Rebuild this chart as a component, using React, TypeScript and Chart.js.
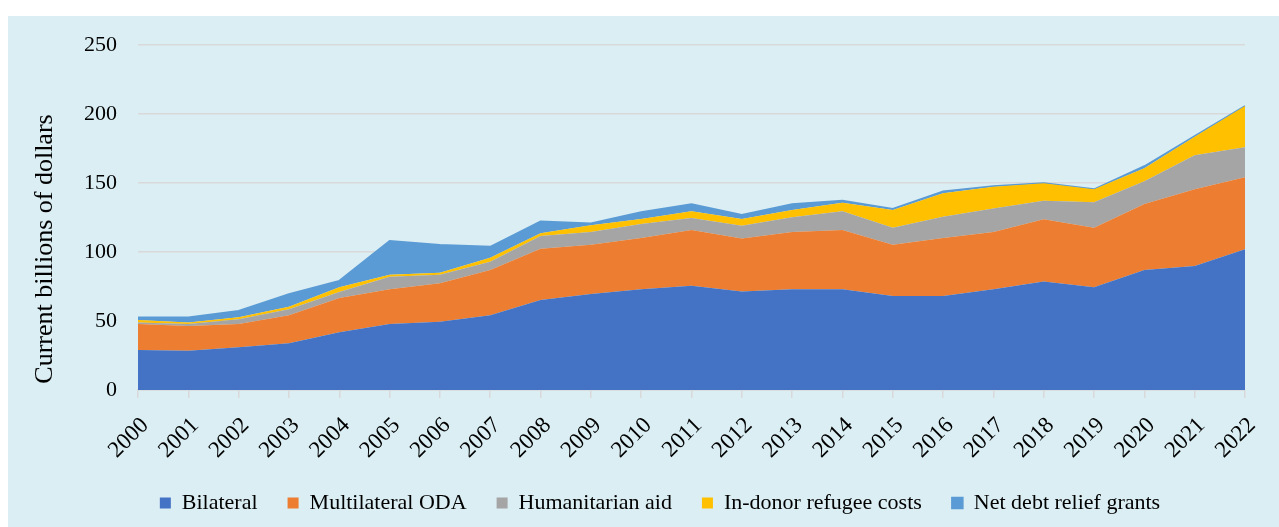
import React, { useEffect, useRef } from "react";
import { Chart, registerables } from "chart.js";

Chart.register(...registerables);

const years = [
  "2000", "2001", "2002", "2003", "2004", "2005", "2006", "2007", "2008", "2009", "2010", "2011",
  "2012", "2013", "2014", "2015", "2016", "2017", "2018", "2019", "2020", "2021", "2022",
];

const bilateral = [29.0, 28.5, 30.9, 33.8, 41.8, 47.8, 49.5, 54.1, 65.2, 69.6, 73.0, 75.6, 71.3, 73.0, 73.0, 68.1, 68.1, 73.0, 78.7, 74.4, 87.0, 89.9, 102.0];
const multilateral = [18.8, 17.9, 16.9, 20.3, 24.9, 25.2, 27.8, 32.9, 37.2, 35.7, 37.1, 40.3, 38.4, 41.5, 42.9, 37.2, 42.0, 41.5, 45.0, 43.2, 47.8, 55.5, 52.1];
const humanitarian = [1.2, 1.4, 3.4, 4.4, 4.3, 9.1, 6.3, 6.0, 9.2, 9.2, 10.2, 8.7, 9.4, 10.6, 13.6, 12.3, 15.5, 17.1, 13.5, 18.4, 16.4, 24.7, 21.8];
const refugeeCosts = [1.7, 1.2, 1.5, 1.9, 3.4, 1.5, 1.4, 2.9, 1.9, 4.8, 3.6, 4.9, 4.8, 5.3, 6.2, 12.8, 16.9, 15.7, 12.6, 9.4, 9.4, 13.5, 29.9];
const debtRelief = [2.0, 3.7, 4.8, 9.2, 4.8, 24.6, 20.3, 8.0, 8.7, 1.5, 5.1, 5.3, 3.1, 4.4, 1.7, 1.0, 1.5, 0.5, 0.2, 0.2, 1.7, 0.5, 0.1];

const seriesNames = ["Bilateral", "Multilateral ODA", "Humanitarian aid", "In-donor refugee costs", "Net debt relief grants"];
const seriesColors = ["#4472C4", "#ED7D31", "#A5A5A5", "#FFC000", "#5B9BD5"];
const yTicks = [0, 50, 100, 150, 200, 250];
const yTitle = "Current billions of dollars";

const FONT = "'Liberation Serif', 'Times New Roman', serif";

export default function App() {
  const ref = useRef<HTMLCanvasElement>(null);

  useEffect(() => {
    if (!ref.current) return;
    const seriesValues = [bilateral, multilateral, humanitarian, refugeeCosts, debtRelief];

    const yTitlePlugin = {
      id: "yTitlePlugin",
      afterDraw(chart: any) {
        const ctx = chart.ctx;
        ctx.save();
        ctx.translate(37, 233);
        ctx.rotate(-Math.PI / 2);
        ctx.font = `26px ${FONT}`;
        ctx.fillStyle = "#000";
        ctx.textAlign = "center";
        ctx.textBaseline = "middle";
        ctx.fillText(yTitle, 0, 0);
        ctx.restore();
      },
    };

    const chart = new Chart(ref.current, {
      type: "line",
      data: {
        labels: years,
        datasets: seriesValues.map((vals, i) => ({
          label: seriesNames[i],
          data: vals,
          backgroundColor: seriesColors[i],
          borderColor: seriesColors[i],
          borderWidth: i === 4 ? 1.5 : 0,
          fill: i === 0 ? "origin" : "-1",
          pointRadius: 0,
          tension: 0,
        })),
      },
      options: {
        responsive: false,
        animation: false,
        layout: { padding: { top: 29, right: 34, bottom: 3, left: 67 } },
        plugins: {
          legend: {
            position: "bottom",
            labels: {
              boxWidth: 11,
              boxHeight: 11,
              padding: 30,
              color: "#000",
              font: { size: 22, family: FONT },
            },
          },
          tooltip: { enabled: false },
        },
        scales: {
          x: {
            offset: false,
            afterFit: (s: any) => {
              s.height = 72;
            },
            grid: {
              display: true,
              drawOnChartArea: false,
              drawTicks: true,
              tickLength: 8,
              color: "#D9D9D9",
              lineWidth: 1.5,
            },
            border: { display: true, color: "#D9D9D9", width: 1.5 },
            ticks: {
              autoSkip: false,
              minRotation: 45,
              maxRotation: 45,
              padding: 14,
              labelOffset: 7,
              color: "#000",
              font: { size: 23, family: FONT },
            },
          },
          y: {
            stacked: true,
            min: 0,
            max: 250,
            afterFit: (s: any) => {
              s.width = 63;
              s.paddingTop = 10;
              s.paddingBottom = 10;
            },
            afterBuildTicks: (s: any) => {
              s.ticks = yTicks.map((v) => ({ value: v }));
            },
            grid: { color: "#D9D9D9", lineWidth: 1.5, drawTicks: false },
            border: { display: false },
            ticks: {
              padding: 21,
              color: "#000",
              font: { size: 22, family: FONT },
            },
          },
        },
      },
      plugins: [yTitlePlugin],
    });
    return () => chart.destroy();
  }, []);

  return (
    <div
      style={{
        position: "absolute",
        left: 8,
        top: 16,
        width: 1271,
        height: 511,
        background: "#DAEEF3",
      }}
    >
      <canvas ref={ref} width={1271} height={511} style={{ display: "block", width: 1271, height: 511 }} />
    </div>
  );
}
